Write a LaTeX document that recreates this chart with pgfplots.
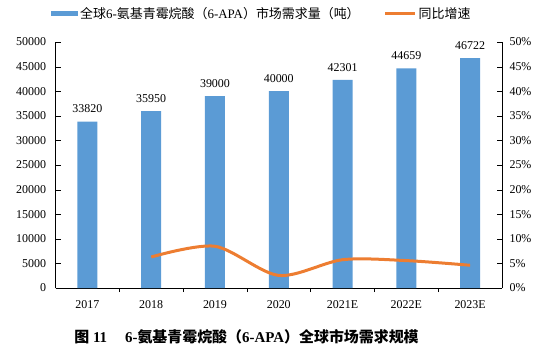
\documentclass[border=0pt]{standalone}
\usepackage{pgfplots}
\pgfplotsset{compat=1.18}
\usepackage{fontspec}
\setmainfont{Liberation Serif}
\newfontfamily\cjk{Noto Sans CJK SC}
\definecolor{barblue}{HTML}{5B9BD5}
\definecolor{lineor}{HTML}{ED7D31}
\begin{document}
\begin{tikzpicture}[x=1bp,y=1bp]
\useasboundingbox (0,0) rectangle (558,359);
\pgfplotsset{
  every axis/.append style={
    font=\fontsize{12}{14}\selectfont,
    /pgf/number format/assume math mode=true,
    /pgf/number format/1000 sep={},
  }
}
\begin{axis}[
  at={(55.5bp,71bp)}, anchor=south west,
  scale only axis, width=446.5bp, height=246bp,
  xmin=-0.5, xmax=6.5, ymin=0, ymax=50000,
  axis x line*=bottom, axis y line*=left,
  scaled y ticks=false,
  ytick={0,5000,...,50000},
  xtick={0,...,6},
  xticklabels={2017,2018,2019,2020,2021E,2022E,2023E},
  xtick align=outside, ytick align=inside,
  major x tick style={draw=none},
  minor xtick={0.5,1.5,...,5.5},
  minor tick length=4bp,
  minor x tick style={black, thin},
  major tick length=5bp,
  y tick style={black},
  axis line style={black, line width=0.8bp},
  yticklabel style={xshift=-6bp},
  xticklabel style={yshift=-4bp},
  ybar, bar width=20bp,
  nodes near coords,
  every node near coord/.append style={yshift=5bp, font=\fontsize{12}{14}\selectfont},
  legend style={draw=none, fill=none, at={(-0.01,1.114)}, anchor=west,
    legend columns=2,
    /tikz/every even column/.append style={column sep=22bp},
    font=\fontsize{13}{14}\selectfont, inner sep=0pt},
  legend cell align=left,
]
\addplot[fill=barblue, draw=none,
  legend image code/.code={\fill[barblue] (0bp,-2.5bp) rectangle (27bp,2.5bp);}]
  coordinates {(0,33820) (1,35950) (2,39000) (3,40000) (4,42301) (5,44659) (6,46722)};
\addlegendentry{{\cjk 全球}6-{\cjk 氨基青霉烷酸（}6-APA{\cjk ）市场需求量（吨）}}
\addlegendimage{lineor, line width=3bp, legend image code/.code={\draw[lineor, line width=3bp] (0bp,0bp) -- (30bp,0bp);}}
\addlegendentry{{\cjk 同比增速}}
\end{axis}
\begin{axis}[
  at={(55.5bp,71bp)}, anchor=south west,
  scale only axis, width=446.5bp, height=246bp,
  xmin=-0.5, xmax=6.5, ymin=0, ymax=50,
  axis x line=none, axis y line*=right,
  ytick={0,5,...,50},
  yticklabel={\pgfmathprintnumber{\tick}\%},
  major tick length=5bp,
  y tick style={black},
  axis line style={black, line width=0.8bp},
  yticklabel style={xshift=4bp},
]
\addplot[lineor, line width=3bp, smooth, tension=0.5, mark=none]
  coordinates {(1,6.30) (2,8.48) (3,2.56) (4,5.75) (5,5.57) (6,4.62)};
\end{axis}
\node[font=\fontsize{15}{17}\selectfont\bfseries] at (246.5,22)
  {{\cjk 图} 11\hspace{1.2em}6-{\cjk 氨基青霉烷酸（}6-APA{\cjk ）全球市场需求规模}};
\end{tikzpicture}
\end{document}
